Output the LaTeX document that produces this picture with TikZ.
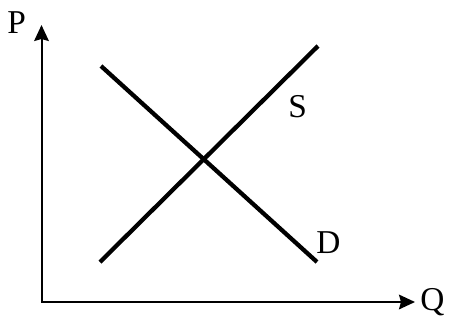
\documentclass[tikz,border=0pt]{standalone}
\usepackage{fontspec}
\setmainfont{Liberation Serif}
\newfontfamily\lbfont{Liberation Serif}
\usetikzlibrary{arrows.meta}
\tikzset{
  axis/.style={line width=1.5pt, line join=miter, arrows={Stealth[length=12pt,width=11pt,inset=1.5pt]-Stealth[length=12pt,width=11pt,inset=1.5pt]}},
  curve/.style={line width=3.2pt},
  lbl/.style={anchor=base west, inner sep=0pt, font=\lbfont\fontsize{25}{30}\selectfont}
}
\begin{document}
\begin{tikzpicture}[x=0.75pt,y=-0.75pt]
\useasboundingbox (0,0) rectangle (449,333);
\coordinate (O) at (41.5,302);
\coordinate (ytop) at (41.5,25);
\coordinate (xend) at (415,302);
\coordinate (s1) at (100,262);
\coordinate (s2) at (318,46);
\coordinate (d1) at (101,66);
\coordinate (d2) at (317,262);
\draw[axis] (ytop) -- (O) -- (xend);
\draw[curve] (s1) -- (s2);
\draw[curve] (d1) -- (d2);
\node[lbl] (P) at (7,33) {P};
\node[lbl] (Q) at (420,310) {Q};
\node[lbl] (S) at (288,117) {S};
\node[lbl] (D) at (316,253) {D};
\end{tikzpicture}
\end{document}
